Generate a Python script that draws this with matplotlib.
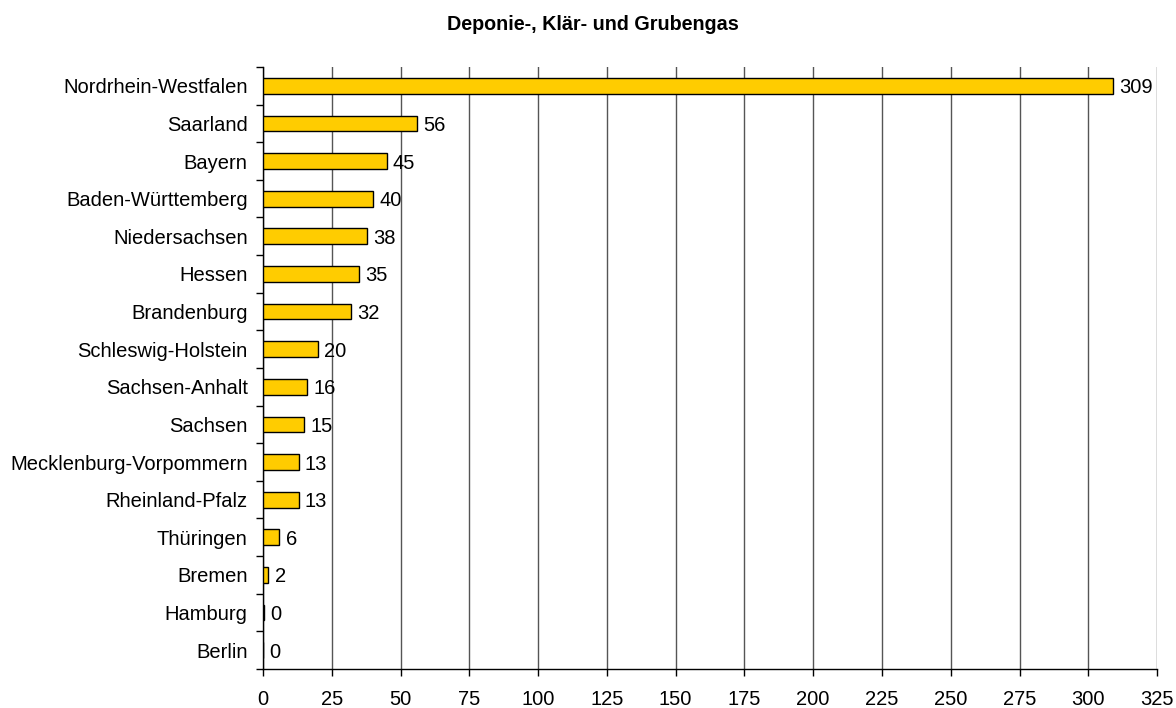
import matplotlib
matplotlib.use("Agg")
import matplotlib.pyplot as plt
import numpy as np

plt.rcParams['font.family'] = ['Liberation Sans', 'DejaVu Sans']

laender = ['Nordrhein-Westfalen', 'Saarland', 'Bayern', 'Baden-Württemberg',
           'Niedersachsen', 'Hessen', 'Brandenburg', 'Schleswig-Holstein',
           'Sachsen-Anhalt', 'Sachsen', 'Mecklenburg-Vorpommern',
           'Rheinland-Pfalz', 'Thüringen', 'Bremen', 'Hamburg', 'Berlin']
werte = [309, 56, 45, 40, 38, 35, 32, 20, 16, 15, 13, 13, 6, 2, 0.3, 0]
beschriftung = ['309', '56', '45', '40', '38', '35', '32', '20', '16', '15',
                '13', '13', '6', '2', '0', '0']

fig = plt.figure(figsize=(11.76, 7.08), dpi=100)
ax = fig.add_axes([0.2236, 0.0551, 0.7603, 0.8503])

y = np.arange(len(laender))[::-1]
ax.barh(y, werte, height=0.42, color='#FFCC00', edgecolor='black', linewidth=1.0, zorder=3)

for yi, w, txt in zip(y, werte, beschriftung):
    ax.text(w + 2.2, yi, txt, va='center_baseline', ha='left', fontsize=14.5, zorder=4)

ax.set_xlim(0, 325)
ax.set_ylim(-0.5, len(laender) - 0.5)
ax.set_xticks(np.arange(0, 326, 25))
ax.tick_params(axis='x', labelsize=14.5, length=5, width=1, pad=10)

# Kategorie-Beschriftungen mittig, Tick-Striche zwischen den Kategorien
ax.set_yticks(y)
ax.set_yticklabels(laender, fontsize=14.5, va='center_baseline')
ax.tick_params(axis='y', length=0, pad=11)
ax.set_yticks(np.arange(-0.5, len(laender), 1), minor=True)
ax.tick_params(axis='y', which='minor', length=5, width=1)

ax.grid(axis='x', color='#555555', linewidth=1.0, zorder=0)
ax.spines['top'].set_visible(False)
ax.spines['right'].set_visible(False)
ax.spines['left'].set_linewidth(1.0)
ax.spines['bottom'].set_linewidth(1.0)

fig.text(0.504, 0.966, 'Deponie-, Klär- und Grubengas', ha='center', va='center',
         fontsize=14.2, fontweight='bold')

fig.savefig('out.png', dpi=100)
